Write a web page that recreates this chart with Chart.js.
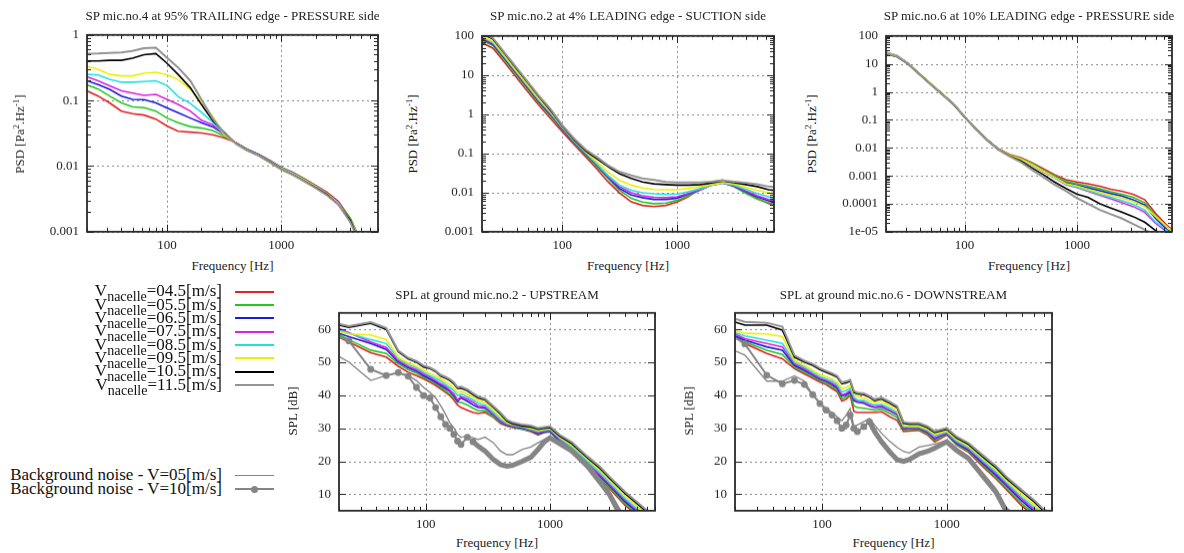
<!DOCTYPE html>
<html>
<head>
<meta charset="utf-8">
<script src="https://cdn.jsdelivr.net/npm/chart.js@4.4.1/dist/chart.umd.min.js"></script>
<style>
body{margin:0;background:#fff;width:1184px;height:553px;overflow:hidden;position:relative;font-family:'Liberation Serif','Times New Roman',serif;color:#222}
canvas{position:absolute}
.t{position:absolute;font-size:13px;white-space:nowrap;transform:translate(-50%,-50%)}
.t.r{transform:translate(-50%,-50%) rotate(-90deg)}
.t sup{font-size:9px;vertical-align:5px;line-height:0}
.leg{position:absolute;right:962px;font-size:17px;line-height:17px;white-space:nowrap;color:#111}
.leg sub{font-size:14px;vertical-align:-5px;line-height:0}
.key{position:absolute;left:235px;width:39px}
</style>
</head>
<body>
<script>
// frequencies (Hz)
const FP = [20,25,31.5,40,50,63,80,100,125,160,200,250,315,400,500,630,800,1000,1250,1600,2000,2500,3150,4000,5000,6300,7000];
const FS = [20,24,36,48,60,72,84,96,108,120,132,144,156,168,180,192,216,240,264,300,350,400,450,500,600,700,800,900,1000,1200,1500,2000,2500,3000,4000,5000,6000,7000];

const speeds = ['04.5','05.5','06.5','07.5','08.5','09.5','10.5','11.5'];
const colors = ['#e32222','#22c822','#1a1ae0','#dd22dd','#22e0e0','#eeee00','#000000','#949494'];
const bgColor = '#858585';

const xTicks = [100, 1000];
const yTicksMic4 = [0.001, 0.01, 0.1, 1];
const yLabelsMic4 = ['0.001', '0.01', '0.1', '1'];
const yTicksMic2 = [0.001, 0.01, 0.1, 1, 10, 100];
const yLabelsMic2 = ['0.001', '0.01', '0.1', '1', '10', '100'];
const yTicksMic6 = [1e-5, 1e-4, 0.001, 0.01, 0.1, 1, 10, 100];
const yLabelsMic6 = ['1e-05', '0.0001', '0.001', '0.01', '0.1', '1', '10', '100'];
const yTicksSPL = [10, 20, 30, 40, 50, 60];

// PSD mic 4, 95% trailing edge, pressure side (one row per speed)
const mic4PSD = [
  [0.14,0.117,0.092,0.069,0.063,0.060,0.052,0.041,0.034,0.033,0.032,0.030,0.027,0.0228,0.0182,0.0153,0.0121,0.0096,0.0081,0.0064,0.0051,0.0040,0.0029,0.0016,0.0007,null,null],
  [0.173,0.15,0.117,0.092,0.080,0.078,0.069,0.054,0.046,0.040,0.038,0.035,0.029,0.0226,0.018,0.0151,0.0119,0.0095,0.008,0.0063,0.005,0.0039,0.0028,0.0016,0.0007,null,null],
  [0.2,0.175,0.148,0.117,0.104,0.103,0.092,0.077,0.065,0.054,0.046,0.040,0.031,0.0225,0.0179,0.015,0.0118,0.0094,0.0079,0.0062,0.0049,0.0039,0.0028,0.0015,0.0007,null,null],
  [0.23,0.2,0.167,0.14,0.13,0.12,0.124,0.104,0.087,0.069,0.05,0.043,0.031,0.0224,0.0178,0.015,0.0118,0.0094,0.0079,0.0062,0.005,0.0039,0.0028,0.0015,0.0007,null,null],
  [0.25,0.245,0.21,0.19,0.19,0.195,0.2,0.17,0.115,0.09,0.066,0.047,0.031,0.0223,0.0177,0.0149,0.0117,0.0093,0.0078,0.0061,0.0049,0.0038,0.0027,0.0015,0.0007,null,null],
  [0.33,0.30,0.25,0.237,0.237,0.26,0.27,0.246,0.21,0.148,0.098,0.058,0.030,0.0223,0.0176,0.0148,0.0115,0.0092,0.0077,0.0061,0.0048,0.0038,0.0027,0.0015,0.0007,null,null],
  [0.40,0.40,0.41,0.41,0.44,0.50,0.52,0.37,0.25,0.157,0.087,0.05,0.033,0.0221,0.0175,0.0146,0.0114,0.009,0.0075,0.0059,0.0047,0.0037,0.0026,0.0015,0.0006,null,null],
  [0.516,0.52,0.53,0.54,0.57,0.63,0.64,0.45,0.32,0.2,0.104,0.054,0.032,0.022,0.0174,0.0145,0.0113,0.0089,0.0074,0.0058,0.0046,0.0036,0.0026,0.0014,0.0006,null,null]
];

// PSD mic 2, 4% leading edge, suction side
const mic2PSD = [
  [67,48,21,8.6,3.8,1.65,0.75,0.36,0.175,0.082,0.04,0.019,0.0098,0.0058,0.0047,0.0044,0.0047,0.0057,0.0078,0.0126,0.0186,0.021,0.0155,0.0104,0.007,0.0052,0.0047],
  [78,56,24.3,10,4.4,1.9,0.87,0.4,0.195,0.092,0.046,0.023,0.0115,0.0071,0.0057,0.0052,0.0054,0.0063,0.0081,0.0118,0.016,0.018,0.014,0.0095,0.0068,0.0055,0.005],
  [85,61,26.4,10.9,4.8,2.05,0.94,0.42,0.2,0.097,0.05,0.025,0.0128,0.0087,0.0074,0.0067,0.0067,0.0072,0.009,0.0118,0.0155,0.0175,0.0145,0.0105,0.0078,0.0062,0.0055],
  [90,64,28,11.5,5.0,2.17,0.99,0.44,0.21,0.1,0.052,0.026,0.0142,0.0099,0.0083,0.0076,0.0074,0.0078,0.0095,0.0118,0.0155,0.0177,0.015,0.011,0.0083,0.0066,0.006],
  [95,67,29,12,5.3,2.27,1.04,0.46,0.215,0.103,0.054,0.0275,0.0155,0.0114,0.0099,0.0093,0.009,0.0092,0.0104,0.0126,0.0155,0.0177,0.0155,0.012,0.0095,0.0078,0.0071],
  [100,71,31,12.7,5.6,2.4,1.1,0.48,0.225,0.11,0.06,0.034,0.0206,0.0155,0.0131,0.012,0.0118,0.0118,0.0128,0.0142,0.016,0.018,0.0165,0.0135,0.0114,0.0099,0.0093],
  [115,82,35,14.6,6.4,2.75,1.2,0.5,0.235,0.115,0.073,0.046,0.0305,0.023,0.0186,0.0167,0.016,0.0155,0.0155,0.016,0.0177,0.0197,0.018,0.016,0.0142,0.0118,0.0114],
  [125,87,37,15.5,6.8,2.9,1.3,0.53,0.25,0.125,0.081,0.05,0.034,0.0275,0.023,0.021,0.0186,0.018,0.018,0.018,0.019,0.0205,0.019,0.0177,0.0163,0.0142,0.0138]
];

// PSD mic 6, 10% leading edge, pressure side
const mic6PSD = [
  [24,18.5,10,4.2,1.9,0.85,0.36,0.13,0.05,0.019,0.0092,0.0058,0.0045,0.0029,0.0018,0.0011,0.00072,0.0006,0.00052,0.00042,0.00033,0.00028,0.00022,0.00014,4.5e-5,1.7e-5,1.2e-5],
  [24.5,18.8,10.1,4.25,1.92,0.86,0.36,0.13,0.05,0.019,0.0091,0.0056,0.0042,0.0027,0.0016,0.001,0.00062,0.00052,0.00043,0.00034,0.00027,0.00022,0.00017,0.00011,3.8e-5,1.5e-5,1.1e-5],
  [25,19,10.2,4.3,1.93,0.86,0.36,0.13,0.05,0.019,0.009,0.0055,0.004,0.0025,0.0015,0.00092,0.00055,0.00046,0.00037,0.00029,0.00023,0.00019,0.00014,9e-5,3e-5,1.2e-5,9e-6],
  [26,20,10.4,4.3,1.95,0.87,0.37,0.13,0.05,0.019,0.0089,0.0054,0.0038,0.0024,0.0014,0.00085,0.00048,0.00038,0.00028,0.0002,0.00015,0.00011,8e-5,5e-5,2e-5,1e-5,8e-6],
  [25.5,19.5,10.3,4.3,1.95,0.87,0.37,0.13,0.05,0.019,0.0089,0.0054,0.0039,0.0024,0.00145,0.00088,0.0005,0.0004,0.0003,0.00022,0.00017,0.00013,9.5e-5,6e-5,2.2e-5,1.1e-5,8e-6],
  [25,19.2,10.3,4.4,2.0,0.88,0.37,0.13,0.05,0.019,0.009,0.0055,0.004,0.0025,0.0015,0.0009,0.00052,0.00043,0.00033,0.00025,0.0002,0.00016,0.00012,8e-5,3.5e-5,1.5e-5,1.1e-5],
  [23,18,9.8,4.1,1.85,0.82,0.35,0.125,0.048,0.018,0.0086,0.0052,0.0034,0.0019,0.0011,0.0006,0.00035,0.00022,0.00017,0.0001,7e-5,5e-5,3.5e-5,2.2e-5,1.1e-5,7e-6,null],
  [23.5,18.2,9.9,4.1,1.85,0.82,0.35,0.125,0.048,0.018,0.0085,0.005,0.0031,0.0016,0.0009,0.00048,0.00028,0.00016,0.0001,6e-5,4.2e-5,3e-5,1.9e-5,1.2e-5,7e-6,null,null]
];

// SPL ground mic 2, upstream (dB)
const up2SPL = [
  [57.6,56.2,52.9,51.6,48.8,47,46,45,44,43,41.9,40.9,39.9,38.6,37.1,36.3,35.5,34.8,34.5,34.8,33.3,31.4,30.7,30.2,29.7,29,28,28.7,28.9,25.9,23.1,18.5,14.9,11.8,6.7,3.7,1.5,0.5],
  [58.3,56.9,53.7,52.7,49.6,47.8,46.7,45.5,44.5,43.5,42.4,41.4,40.4,39.2,37.9,37.9,37.1,36.1,35.3,35.3,33.5,31.7,30.9,30.4,29.8,29.2,28.2,28.9,29,26.1,23.3,18.8,15.3,12.2,7.2,4.2,2,1],
  [58.8,57.8,55.7,53.9,50.1,48.4,47.3,46,45,44,43,42.1,41.2,39.9,38.2,39.2,38.2,37.1,36.3,36.1,34.1,32,31,30.6,30,29.4,28.4,29,29.2,26.3,23.6,19.2,15.7,12.7,7.8,4.7,2.5,1.5],
  [60.3,59,56.2,54.5,50.6,48.8,47.8,46.5,45.5,44.5,43.5,42.7,41.6,40.4,38.6,39.6,38.9,37.9,36.8,36.5,34.3,32.2,31.2,30.7,30.2,29.5,28.7,29.2,29.4,26.6,23.9,19.5,16.1,13.1,8.3,5.2,2.9,2],
  [59.8,58.8,56.9,55.7,51.1,49.4,48.4,47,46,45.2,44.3,43.3,42.4,41.4,39.9,40.4,39.6,38.6,37.6,37.1,34.8,32.8,31.4,31,30.4,29.7,29,29.4,29.7,26.9,24.3,20,16.7,13.7,8.8,5.7,3.5,2.5],
  [59.3,58.6,58.3,56.9,51.6,49.8,48.8,47.6,46.7,46,45,44,43.3,42.2,40.9,41.2,40.4,39.4,38.4,37.9,35.5,33.5,31.7,31.2,30.7,30,29.4,29.7,30,27.3,24.9,20.7,17.4,14.4,9.6,6.4,4.2,3],
  [61.3,60.6,61.8,60,53.2,51.1,50.1,48.6,48.1,47.2,45.8,45.2,44.5,43.5,42.1,42.2,41.4,40.2,39.2,38.6,36.3,34.3,32.2,31.4,30.7,30.4,29.7,30,30.2,27.6,25.3,21,18,14.9,10.3,7.2,4.7,3.5],
  [61.7,61,62.2,60.4,53.6,51.4,50.4,49,48.4,47.5,46.2,45.6,44.9,43.9,42.5,42.6,41.8,40.6,39.6,39,36.7,34.7,32.6,31.8,31.1,30.8,30.1,30.4,30.6,28,25.8,21.5,18.5,15.4,10.8,7.7,5.2,4]
];
const up2Bg05 = [51.8,50.1,44.5,46,46.9,46,44.5,42.4,40.9,39.2,36.8,34.3,31.7,30.2,28.2,27.3,27.6,27.1,26.6,27.3,25.6,23.1,22,22,23.6,24.3,25.6,26.6,27.5,26,23.8,19.5,15,11,3,null,null,null];
const up2Bg10 = [57.8,56.5,47.9,46,46.9,45.8,42.4,39.9,39.2,36.3,33.5,31.2,30,28.2,26.1,25.1,27.3,25.9,24.6,23.1,20.5,19,18.5,18.8,20,21.2,23.6,25.9,27.1,25.3,23.1,18.5,13.9,10,1,null,null,null];

// SPL ground mic 6, downstream (dB)
const down6SPL = [
  [57.6,55.7,52.7,51.1,48.1,46.5,45.2,44,43.2,42.1,41.1,38.3,38.8,40,35.1,34.8,34.8,34.8,34.8,35,33.5,32.4,29,29.2,29.4,28,25.9,26.9,28,24.9,22.7,18,14.6,11.5,6.5,3.5,1.5,0.5],
  [57.8,56.2,53.7,52.4,48.6,47,45.7,44.5,43.7,42.7,41.6,39,39.5,40.5,36.8,36.3,36.1,35.8,35.5,35.8,34.5,33.3,29.5,29.7,29.7,28.4,26.3,27.3,28.2,25.1,23.1,18.5,15.1,12,7.2,4.2,2,1],
  [58,56.7,54.7,53.7,49.1,47.6,46.2,44.9,44.2,43.3,42.2,39.8,40.2,41,38.4,37.9,37.6,36.8,36.3,36.5,35.3,34.1,29.9,30,30,28.8,26.8,27.8,28.4,25.5,23.4,19,15.7,12.7,8,4.9,2.5,1.5],
  [58.6,57.2,55.7,54.7,49.6,48.1,46.5,45.2,44.5,43.7,42.7,40.2,40.6,41.5,38.9,38.2,37.9,37.1,36.5,36.8,35.5,34.3,30.2,30.2,30.2,29,27.1,27.9,28.6,25.8,23.7,19.4,16.2,13.2,8.6,5.5,2.9,2],
  [59,58,56.7,55.7,50.1,48.6,47,45.7,45,44.3,43.3,41,41.5,42.2,39.4,38.6,38.4,37.6,37.1,37.3,36.1,34.8,30.5,30.4,30.4,29.4,27.7,28.4,28.9,26.1,24.1,19.8,16.7,13.7,9.2,6.1,3.5,2.5],
  [59.6,58.8,58.6,57.8,50.6,49.1,47.6,46.3,45.7,45,44,42,42.5,43,40.4,39.6,39.2,38.4,37.9,38.2,36.8,35.5,30.8,30.7,30.7,29.7,28.2,28.7,29.2,26.6,24.6,20.5,17.4,14.4,10,6.9,4.2,3],
  [62.2,61.3,61.3,59.8,51.6,50.1,49.1,47.8,47,46.3,45.5,43.5,43.8,44.3,40.9,40.4,40.2,39.4,38.4,38.9,37.6,36.3,31.5,31.2,31.2,30.2,28.7,29.2,29.7,27.1,25.1,21,18,14.9,10.8,7.8,4.9,3.8],
  [63.2,62.3,62,60.8,52.1,50.5,49.5,48.2,47.4,46.7,45.9,43.9,44.2,44.7,41.3,40.8,40.6,39.8,38.8,39.3,38,36.7,31.9,31.6,31.6,30.6,29.1,29.6,30.1,27.5,25.5,21.5,18.5,15.4,11.3,8.3,5.4,4.3]
];
const down6Bg05 = [53.5,52.2,44.3,44.3,45.9,44.3,40.2,37.8,36,34.8,33.5,32.3,34,36,30.5,31,32,33,31,28.5,26,24.2,23,22.5,24.3,24.8,25.2,25.8,26.4,24,21.5,16,11.5,6,2,null,null,null];
const down6Bg10 = [57.5,55.6,46.1,43.5,44.5,43.3,40.2,37.5,35.5,34,32.3,30,31,34,30,29,30.5,32,29,25.9,22.8,20.5,20,20.5,22.3,23,24,25,25.9,23.3,20.8,15,10.5,4.9,1,null,null,null];

const FONT = "'Liberation Serif', 'Times New Roman', serif";

function pts(xs, ys) {
  return xs.map((x, i) => ({x: x, y: ys[i]})).filter(p => p.y !== null);
}

function logMinors(lo, hi) {
  const out = [];
  for (let d = lo; d < hi * 0.999; d *= 10) {
    for (let k = 2; k <= 9; k++) if (d * k <= hi) out.push(d * k);
  }
  return out;
}

// gnuplot-like border, inward ticks and dotted grid
const framePlugin = {
  id: 'frame',
  beforeDatasetsDraw(chart, args, o) {
    const {ctx, chartArea: a, scales} = chart;
    ctx.save();
    ctx.strokeStyle = '#8a8a8a';
    ctx.lineWidth = 1;
    ctx.setLineDash([2, 3]);
    ctx.beginPath();
    o.xMajor.forEach(v => {
      const p = Math.round(scales.x.getPixelForValue(v)) + 0.5;
      ctx.moveTo(p, a.top); ctx.lineTo(p, a.bottom);
    });
    o.yMajor.forEach(v => {
      const p = Math.round(scales.y.getPixelForValue(v)) + 0.5;
      ctx.moveTo(a.left, p); ctx.lineTo(a.right, p);
    });
    ctx.stroke();
    ctx.restore();
  },
  afterDraw(chart, args, o) {
    const {ctx, chartArea: a, scales} = chart;
    ctx.save();
    ctx.strokeStyle = '#222';
    ctx.lineWidth = 1;
    ctx.beginPath();
    const tx = (v, len) => {
      const p = Math.round(scales.x.getPixelForValue(v)) + 0.5;
      ctx.moveTo(p, a.bottom); ctx.lineTo(p, a.bottom - len);
      ctx.moveTo(p, a.top); ctx.lineTo(p, a.top + len);
    };
    const ty = (v, len) => {
      const p = Math.round(scales.y.getPixelForValue(v)) + 0.5;
      ctx.moveTo(a.left, p); ctx.lineTo(a.left + len, p);
      ctx.moveTo(a.right, p); ctx.lineTo(a.right - len, p);
    };
    o.xMajor.forEach(v => tx(v, 7));
    o.xMinor.forEach(v => tx(v, 4));
    o.yMajor.forEach(v => ty(v, 7));
    o.yMinor.forEach(v => ty(v, 4));
    ctx.stroke();
    ctx.lineWidth = 1.8;
    ctx.strokeStyle = '#2a2a2a';
    ctx.strokeRect(a.left, a.top, a.right - a.left, a.bottom - a.top);
    ctx.restore();
  }
};

function makeChart(box, datasets, yCfg) {
  const cv = document.createElement('canvas');
  const w = box.r - box.l + 65, h = box.b - box.t + 35;
  cv.width = w; cv.height = h;
  cv.style.width = w + 'px';
  cv.style.height = h + 'px';
  document.body.appendChild(cv);
  const tickFont = {family: FONT, size: 13};
  const chart = new Chart(cv, {
    type: 'line',
    data: {datasets: datasets},
    plugins: [framePlugin],
    options: {
      responsive: false,
      maintainAspectRatio: false,
      animation: false,
      devicePixelRatio: 1,
      layout: {padding: {top: 10, right: 5, left: 0, bottom: 0}},
      plugins: {
        legend: {display: false},
        tooltip: {enabled: false},
        frame: {xMajor: xTicks, xMinor: logMinors(10, 7000).filter(v => v >= 20), yMajor: yCfg.ticks, yMinor: yCfg.minor}
      },
      elements: {line: {tension: 0}, point: {radius: 0}},
      scales: {
        x: {
          type: 'logarithmic', min: 20, max: 7000,
          afterBuildTicks: s => { s.ticks = xTicks.map(v => ({value: v})); },
          afterFit: s => { s.height = 25; },
          ticks: {callback: v => String(v), font: tickFont, color: '#222', padding: 6, maxRotation: 0, autoSkip: false},
          grid: {display: false, drawTicks: false},
          border: {display: false}
        },
        y: {
          type: yCfg.type, min: yCfg.min, max: yCfg.max,
          afterBuildTicks: s => { s.ticks = yCfg.ticks.map(v => ({value: v})); },
          afterFit: s => { s.width = 60; },
          ticks: {callback: (v, i) => yCfg.labels[i], font: tickFont, color: '#222', padding: 8, autoSkip: false},
          grid: {display: false, drawTicks: false},
          border: {display: false}
        }
      }
    }
  });
  // fit the plot area exactly onto the wanted box
  let a = chart.chartArea;
  const w2 = w + (box.r - box.l) - (a.right - a.left);
  const h2 = h + (box.b - box.t) - (a.bottom - a.top);
  if (w2 !== w || h2 !== h) {
    chart.resize(w2, h2);
    a = chart.chartArea;
  }
  cv.style.left = (box.l - a.left) + 'px';
  cv.style.top = (box.t - a.top) + 'px';
  return chart;
}

function speedSets(xs, rows) {
  const out = [];
  for (let i = rows.length - 1; i >= 0; i--) {
    out.push({data: pts(xs, rows[i]), borderColor: colors[i], borderWidth: i === 7 ? 2 : 1.6, pointRadius: 0, fill: false});
  }
  return out;
}

function bgSets(bg05, bg10) {
  return [
    {
      data: pts(FS, bg10), borderColor: bgColor, backgroundColor: bgColor, borderWidth: 2,
      pointRadius: c => (FS[c.dataIndex] > 20 && FS[c.dataIndex] <= 240) ? 3.4 : 0,
      pointBorderWidth: 0, pointBackgroundColor: bgColor,
      segment: {borderWidth: c => FS[c.p0DataIndex] >= 240 ? 5 : 2}
    },
    {data: pts(FS, bg05), borderColor: bgColor, borderWidth: 1.3, pointRadius: 0}
  ];
}

const psdMinor4 = logMinors(0.001, 1);
const psdMinor2 = logMinors(0.001, 100);
const psdMinor6 = logMinors(1e-5, 100);

makeChart({l: 87, r: 378, t: 35, b: 231}, speedSets(FP, mic4PSD),
  {type: 'logarithmic', min: 0.001, max: 1, ticks: yTicksMic4, labels: yLabelsMic4, minor: psdMinor4});
makeChart({l: 482, r: 774, t: 36, b: 231}, speedSets(FP, mic2PSD),
  {type: 'logarithmic', min: 0.001, max: 100, ticks: yTicksMic2, labels: yLabelsMic2, minor: psdMinor2});
makeChart({l: 886, r: 1172, t: 36, b: 231}, speedSets(FP, mic6PSD),
  {type: 'logarithmic', min: 1e-5, max: 100, ticks: yTicksMic6, labels: yLabelsMic6, minor: psdMinor6});
makeChart({l: 339, r: 655, t: 313, b: 510}, bgSets(up2Bg05, up2Bg10).concat(speedSets(FS, up2SPL)),
  {type: 'linear', min: 5, max: 65, ticks: yTicksSPL, labels: yTicksSPL.map(String), minor: []});
makeChart({l: 735, r: 1052, t: 313, b: 510}, bgSets(down6Bg05, down6Bg10).concat(speedSets(FS, down6SPL)),
  {type: 'linear', min: 5, max: 65, ticks: yTicksSPL, labels: yTicksSPL.map(String), minor: []});

// titles and axis labels
function label(html, x, y, rot) {
  const d = document.createElement('div');
  d.className = 't' + (rot ? ' r' : '');
  d.style.left = x + 'px';
  d.style.top = y + 'px';
  d.innerHTML = html;
  document.body.appendChild(d);
}
const psdTitle = 'PSD [Pa<sup>2</sup>.Hz<sup>-1</sup>]';
label('SP mic.no.4 at 95% TRAILING edge - PRESSURE side', 232.5, 16);
label('SP mic.no.2 at 4% LEADING edge - SUCTION side', 628, 16);
label('SP mic.no.6 at 10% LEADING edge - PRESSURE side', 1029, 16);
label('SPL at ground mic.no.2 - UPSTREAM', 497, 295);
label('SPL at ground mic.no.6 - DOWNSTREAM', 893.5, 295);
[232.5, 628, 1029].forEach(x => label('Frequency [Hz]', x, 265.5));
[497, 893.5].forEach(x => label('Frequency [Hz]', x, 543));
label(psdTitle, 20, 134, true);
label(psdTitle, 413, 134, true);
label(psdTitle, 811.5, 134, true);
label('SPL [dB]', 293, 411, true);
label('SPL [dB]', 689, 411, true);

// legend
function legendRow(html, y, color, thick, dot) {
  const d = document.createElement('div');
  d.className = 'leg';
  d.style.top = (y - 9.5) + 'px';
  d.innerHTML = html;
  document.body.appendChild(d);
  const k = document.createElement('div');
  k.className = 'key';
  k.style.top = (y - thick / 2) + 'px';
  k.style.height = thick + 'px';
  k.style.background = color;
  document.body.appendChild(k);
  if (dot) {
    const c = document.createElement('div');
    c.style.cssText = 'position:absolute;left:251px;width:7px;height:7px;border-radius:50%;background:' + color + ';top:' + (y - 3.5) + 'px';
    document.body.appendChild(c);
  }
}
speeds.forEach((s, i) => {
  legendRow('V<sub>nacelle</sub>=' + s + '[m/s]', 291.7 + i * 13.33, colors[i], 2, false);
});
legendRow('Background noise - V=05[m/s]', 475.7, bgColor, 1.5, false);
legendRow('Background noise - V=10[m/s]', 489, bgColor, 1.5, true);
</script>
</body>
</html>
